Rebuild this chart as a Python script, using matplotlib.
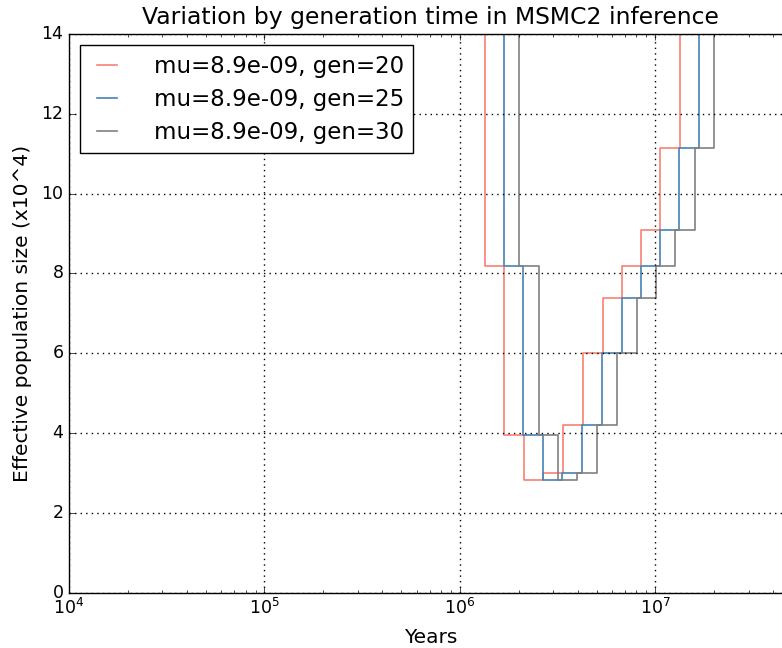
import matplotlib
matplotlib.use("Agg")
import matplotlib.pyplot as plt
import numpy as np

plt.style.use('classic')

# Step boundaries (time in generations, left edge of each interval) for MSMC2 inference
time_gen = [100, 67150, 84250, 105900, 132450, 167600, 212100, 268500, 337000, 421500, 529000, 665000]
# Effective population size (x10^4) per interval
ne = [30.0, 8.18, 3.94, 2.83, 3.00, 4.19, 6.00, 7.38, 8.18, 9.09, 11.14, 30.0]
gens = [20, 25, 30]
mu_label = "8.9e-09"
colors = ['#FA8072', '#4682B4', 'gray']

fig = plt.figure(figsize=(7.82, 6.48), dpi=100)
fig.patch.set_facecolor('white')
ax = fig.add_axes([69/782, 55.3/648, 723/782, 558.7/648])

for g, c in zip(gens, colors):
    years = np.array(time_gen, dtype=float) * g
    years = np.append(years, 1e9)
    vals = np.append(ne, ne[-1])
    ax.step(years, vals, where='post', color=c, lw=1.2,
            label=f"mu={mu_label}, gen={g}")

ax.set_xscale('log')
ax.set_xlim(1e4, 5e7)
ax.set_ylim(0, 14)
ax.set_yticks([0, 2, 4, 6, 8, 10, 12, 14])
ax.tick_params(axis='both', labelsize=12.5)
ax.grid(True, color='k', linestyle=':', linewidth=1)
ax.set_xlabel('Years', fontsize=14.5, labelpad=7)
ax.set_ylabel('Effective population size (x10^4)', fontsize=14.5, labelpad=7)
ax.set_title('Variation by generation time in MSMC2 inference', fontsize=16.9, y=1.005)
ax.legend(loc='upper left', fontsize=16.5, frameon=True, handlelength=1.5,
          handletextpad=1.3, borderaxespad=0.5, labelspacing=0.45)

fig.savefig('out.png', dpi=100, facecolor='white')
